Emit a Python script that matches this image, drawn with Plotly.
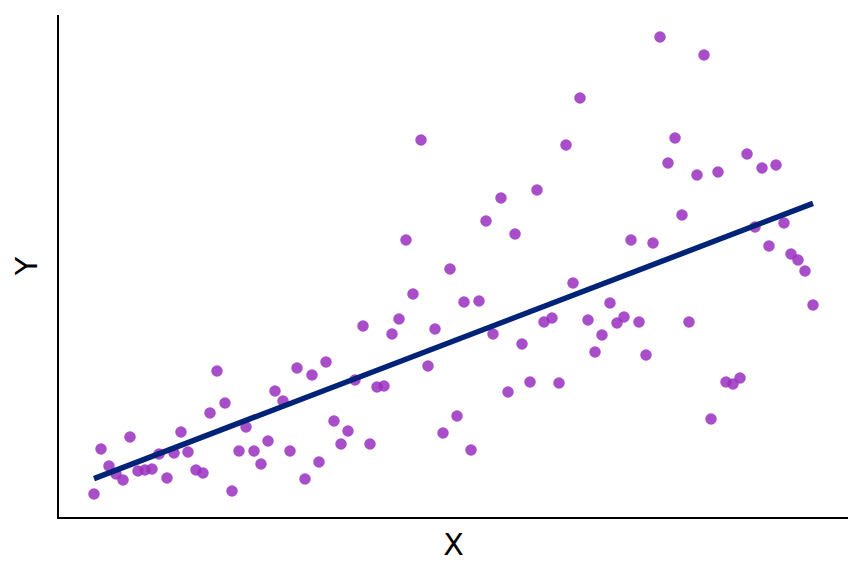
import numpy as np
import plotly.graph_objects as go

# values (arbitrary units)
x = [35, 42, 50, 57, 64, 71, 79, 86, 93, 100, 108, 115, 122, 129, 137, 144, 151, 158, 166, 173,
     180, 187, 195, 202, 209, 216, 224, 231, 238, 246, 253, 260, 267, 275, 282, 289, 296, 304, 311, 318,
     325, 333, 340, 347, 354, 362, 369, 376, 384, 391, 398, 405, 412, 420, 427, 434, 442, 449, 456, 463,
     471, 478, 485, 493, 500, 507, 514, 521, 529, 536, 543, 551, 558, 565, 572, 580, 587, 594, 601, 609,
     616, 623, 630, 638, 645, 652, 659, 667, 674, 681, 688, 696, 703, 710, 717, 725, 732, 739, 746, 754]
y = [23, 68, 51, 43, 37, 80, 46, 47, 48, 63, 39, 64, 85, 65, 47, 44, 104, 146, 114, 26,
     66, 90, 66, 53, 76, 126, 116, 66, 149, 38, 142, 55, 155, 96, 73, 86, 137, 191, 73, 130,
     131, 183, 198, 277, 223, 377, 151, 188, 84, 248, 101, 215, 67, 216, 296, 183, 319, 125, 283, 173,
     135, 327, 195, 199, 134, 372, 234, 419, 197, 165, 182, 214, 194, 200, 277, 195, 162, 274, 480, 354,
     379, 302, 195, 342, 462, 98, 345, 135, 133, 139, 363, 290, 349, 271, 352, 294, 263, 257, 246, 212]

x = np.array(x)
y = np.array(y)
slope, icpt = np.polyfit(x, y, 1)
xl = np.array([x.min(), x.max()])

fig = go.Figure()
fig.add_trace(go.Scatter(x=x, y=y, mode="markers",
                         marker=dict(color="#9A2FC0", opacity=0.85, size=11.5)))
fig.add_trace(go.Scatter(x=xl, y=slope * xl + icpt, mode="lines",
                         line=dict(color="#002277", width=5.5)))

# page has an 8px body margin, so the margins are shifted to compensate
fig.update_layout(
    width=864, height=576, showlegend=False,
    plot_bgcolor="white", paper_bgcolor="white",
    margin=dict(l=51, r=24, t=7, b=67),
    font=dict(family="DejaVu Sans", color="black"),
)
fig.update_xaxes(range=[0, 789], showticklabels=False, showgrid=False, zeroline=False,
                 showline=True, linecolor="black", linewidth=2, ticks="", automargin=False,
                 title=dict(text="X", font=dict(size=30), standoff=16))
fig.update_yaxes(range=[0, 502], showticklabels=False, showgrid=False, zeroline=False,
                 showline=True, linecolor="black", linewidth=2, ticks="", automargin=False,
                 title=dict(text="Y", font=dict(size=30), standoff=11))

fig.write_html("out.html")
